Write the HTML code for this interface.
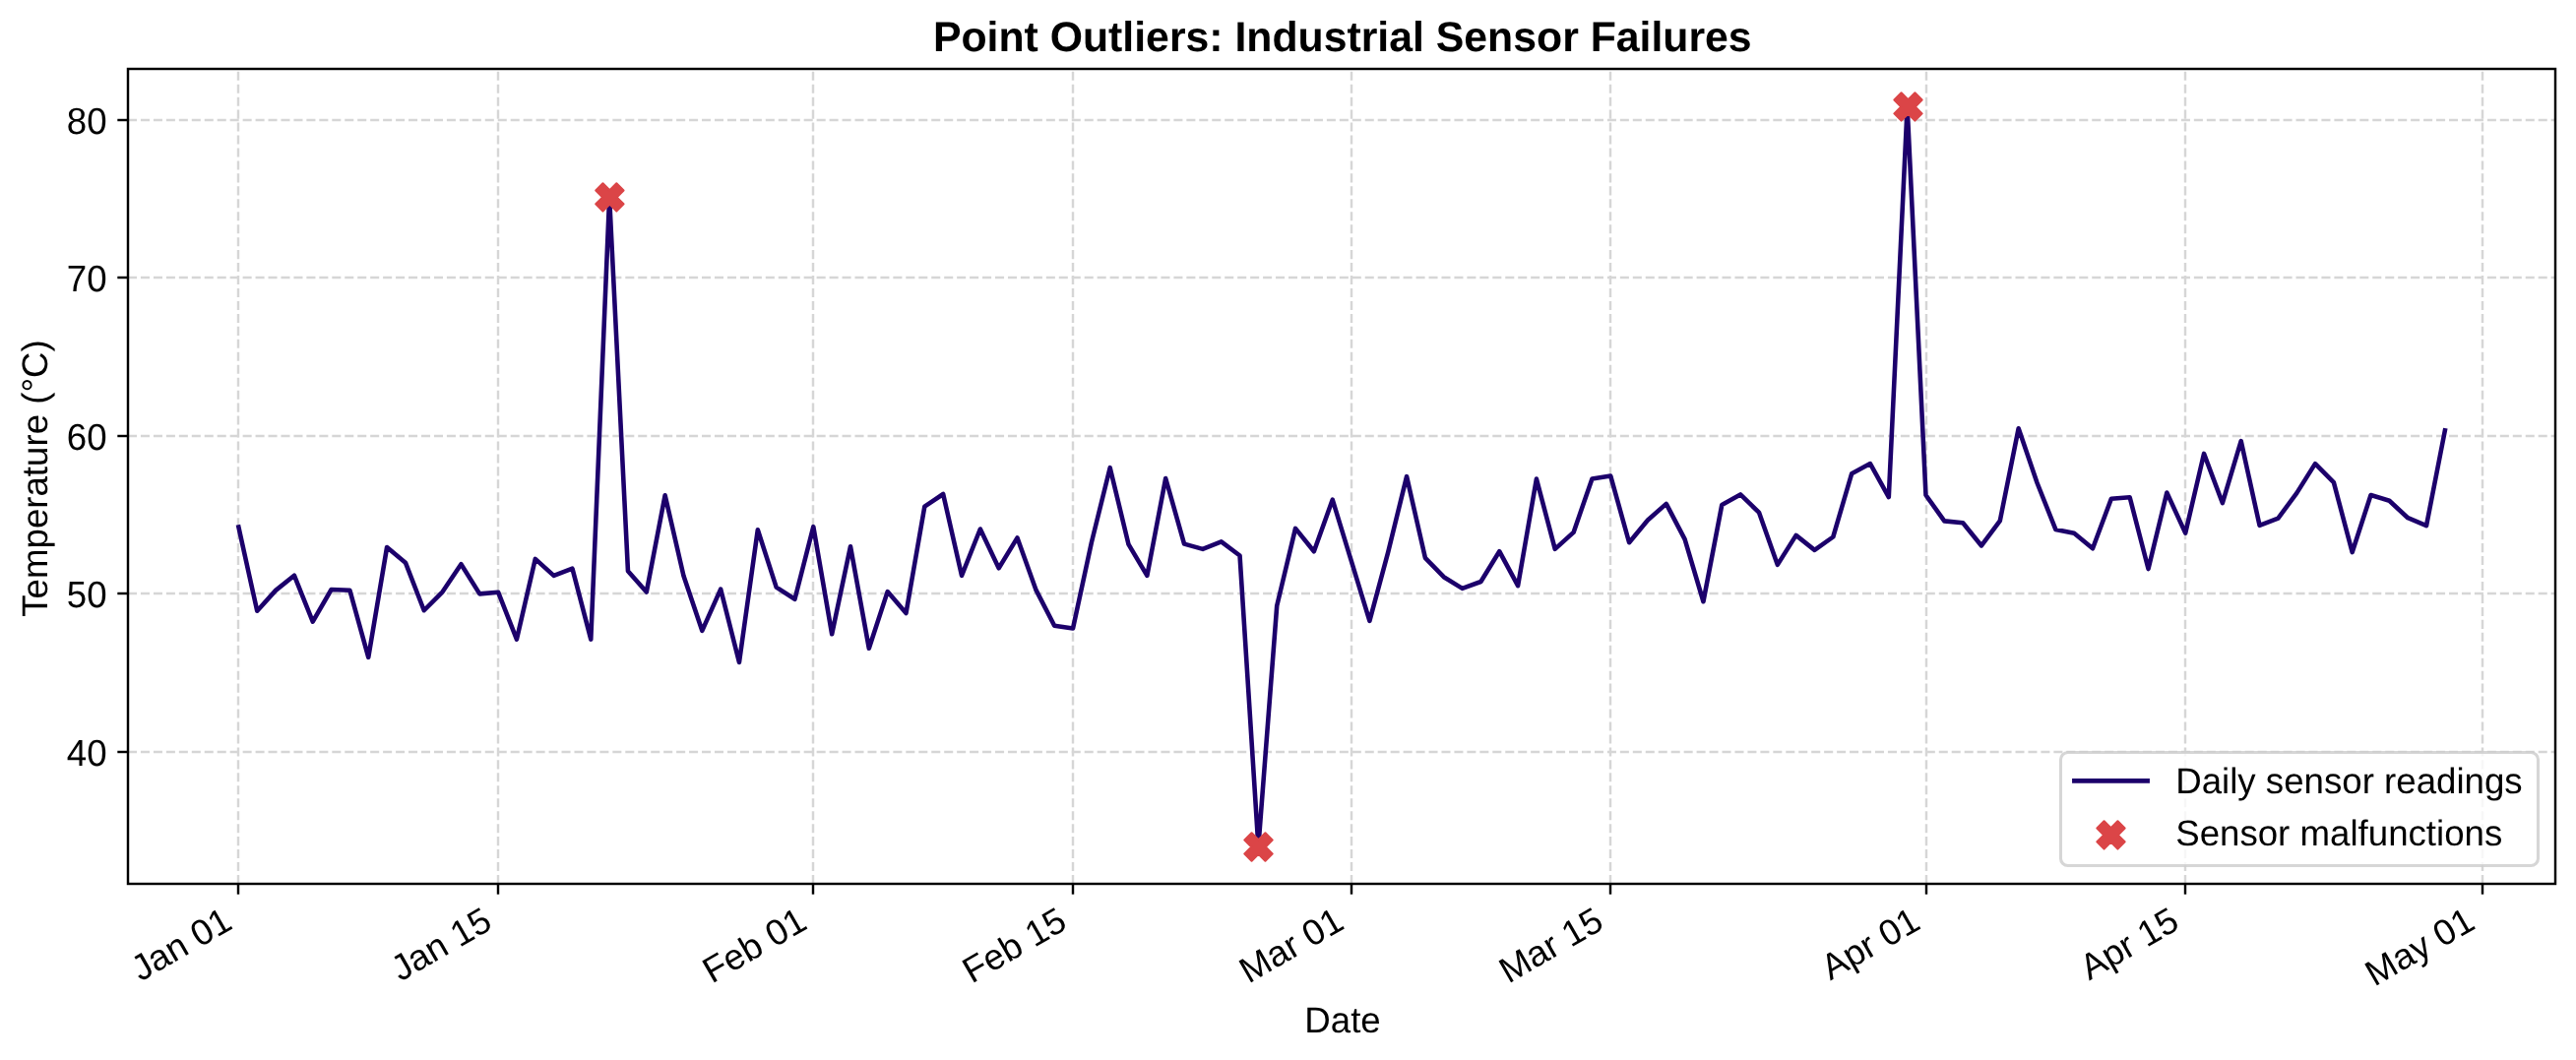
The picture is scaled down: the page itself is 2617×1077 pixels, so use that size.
<!DOCTYPE html><html><head><meta charset="utf-8"><style>html,body{margin:0;padding:0;background:#fff;}svg{display:block;will-change:transform;}text{font-family:"Liberation Sans",sans-serif;text-rendering:geometricPrecision;}</style></head><body>
<svg width="2617" height="1077" viewBox="0 0 2617 1077">
<rect width="2617" height="1077" fill="#fff"/>
<g stroke="#d6d6d6" stroke-width="2.44" stroke-dasharray="9.045 3.911" fill="none"><line x1="242.00" y1="898.00" x2="242.00" y2="70.00"/><line x1="506.00" y1="898.00" x2="506.00" y2="70.00"/><line x1="826.00" y1="898.00" x2="826.00" y2="70.00"/><line x1="1090.00" y1="898.00" x2="1090.00" y2="70.00"/><line x1="1373.00" y1="898.00" x2="1373.00" y2="70.00"/><line x1="1636.00" y1="898.00" x2="1636.00" y2="70.00"/><line x1="1957.00" y1="898.00" x2="1957.00" y2="70.00"/><line x1="2220.00" y1="898.00" x2="2220.00" y2="70.00"/><line x1="2522.00" y1="898.00" x2="2522.00" y2="70.00"/><line x1="130.00" y1="764.00" x2="2596.00" y2="764.00"/><line x1="130.00" y1="603.00" x2="2596.00" y2="603.00"/><line x1="130.00" y1="443.00" x2="2596.00" y2="443.00"/><line x1="130.00" y1="282.00" x2="2596.00" y2="282.00"/><line x1="130.00" y1="122.00" x2="2596.00" y2="122.00"/></g>
<polyline points="242.40,535.50 261.24,620.75 280.07,599.90 298.91,584.70 317.74,631.65 336.58,599.00 355.42,599.80 374.25,667.85 393.09,556.00 411.92,571.70 430.76,620.25 449.60,601.30 468.43,573.20 487.27,603.35 506.10,601.70 524.94,649.55 543.78,567.90 562.61,584.85 581.45,577.70 600.28,649.55 619.12,200.40 637.96,580.20 656.79,601.45 675.63,503.20 694.46,584.90 713.30,640.85 732.14,598.60 750.97,672.95 769.81,538.30 788.64,596.60 807.48,608.75 826.32,535.10 845.15,644.25 863.99,555.20 882.82,658.75 901.66,601.10 920.50,622.95 939.33,514.70 958.17,502.00 977.00,584.85 995.84,537.50 1014.68,577.25 1033.51,546.40 1052.35,599.10 1071.18,635.80 1090.02,638.55 1108.86,551.30 1127.69,475.20 1146.53,553.20 1165.36,584.85 1184.20,486.00 1203.04,552.60 1221.87,557.85 1240.71,550.30 1259.54,564.50 1278.38,860.50 1297.22,615.50 1316.05,536.90 1334.89,560.25 1353.72,507.70 1372.56,569.20 1391.40,630.85 1410.23,560.80 1429.07,484.10 1447.90,566.80 1466.74,586.20 1485.58,597.85 1504.41,591.00 1523.25,560.20 1542.08,595.15 1560.92,486.60 1579.76,557.85 1598.59,540.90 1617.43,486.40 1636.26,483.60 1655.10,551.25 1673.94,528.50 1692.77,511.90 1711.61,547.90 1730.44,611.25 1749.28,513.00 1768.12,502.40 1786.95,520.60 1805.79,573.85 1824.62,543.90 1843.46,558.85 1862.30,545.50 1881.13,481.30 1899.97,471.10 1918.80,505.05 1937.64,108.45 1956.48,503.00 1975.31,529.40 1994.15,531.30 2012.98,554.45 2031.82,529.10 2050.66,435.20 2069.49,490.50 2088.33,537.90 2107.16,541.70 2126.00,557.25 2144.84,506.80 2163.67,505.20 2182.51,578.05 2201.34,500.50 2220.18,541.65 2239.02,460.90 2257.85,511.05 2276.69,448.10 2295.52,533.85 2314.36,526.60 2333.20,501.10 2352.03,471.10 2370.87,490.20 2389.70,561.05 2408.54,503.00 2427.38,508.70 2446.21,526.20 2465.05,534.05 2483.88,437.40" fill="none" stroke="#1c006b" stroke-width="4.58" stroke-linejoin="round" stroke-linecap="square"/>
<polygon points="626.33,186.26 633.54,193.47 626.61,200.40 633.54,207.33 626.33,214.54 619.40,207.61 612.47,214.54 605.26,207.33 612.19,200.40 605.26,193.47 612.47,186.26 619.40,193.19" fill="#db4547" stroke="#db4547" stroke-width="2.10" stroke-linejoin="round"/>
<polygon points="1285.43,846.36 1292.64,853.57 1285.71,860.50 1292.64,867.43 1285.43,874.64 1278.50,867.71 1271.57,874.64 1264.36,867.43 1271.29,860.50 1264.36,853.57 1271.57,846.36 1278.50,853.29" fill="#db4547" stroke="#db4547" stroke-width="2.10" stroke-linejoin="round"/>
<polygon points="1945.43,94.31 1952.64,101.52 1945.71,108.45 1952.64,115.38 1945.43,122.59 1938.50,115.66 1931.57,122.59 1924.36,115.38 1931.29,108.45 1924.36,101.52 1931.57,94.31 1938.50,101.24" fill="#db4547" stroke="#db4547" stroke-width="2.10" stroke-linejoin="round"/>
<rect x="130.00" y="70.00" width="2466.00" height="828.00" fill="none" stroke="#000" stroke-width="2.44" stroke-linejoin="miter"/>
<g stroke="#000" stroke-width="2.44"><line x1="242.00" y1="898.00" x2="242.00" y2="908.69"/><line x1="506.00" y1="898.00" x2="506.00" y2="908.69"/><line x1="826.00" y1="898.00" x2="826.00" y2="908.69"/><line x1="1090.00" y1="898.00" x2="1090.00" y2="908.69"/><line x1="1373.00" y1="898.00" x2="1373.00" y2="908.69"/><line x1="1636.00" y1="898.00" x2="1636.00" y2="908.69"/><line x1="1957.00" y1="898.00" x2="1957.00" y2="908.69"/><line x1="2220.00" y1="898.00" x2="2220.00" y2="908.69"/><line x1="2522.00" y1="898.00" x2="2522.00" y2="908.69"/><line x1="130.00" y1="764.00" x2="119.31" y2="764.00"/><line x1="130.00" y1="603.00" x2="119.31" y2="603.00"/><line x1="130.00" y1="443.00" x2="119.31" y2="443.00"/><line x1="130.00" y1="282.00" x2="119.31" y2="282.00"/><line x1="130.00" y1="122.00" x2="119.31" y2="122.00"/></g>
<text x="0" y="0" font-size="36.67" text-anchor="end" transform="translate(108.6 777.70) scale(1 1.03)">40</text>
<text x="0" y="0" font-size="36.67" text-anchor="end" transform="translate(108.6 616.70) scale(1 1.03)">50</text>
<text x="0" y="0" font-size="36.67" text-anchor="end" transform="translate(108.6 456.70) scale(1 1.03)">60</text>
<text x="0" y="0" font-size="36.67" text-anchor="end" transform="translate(108.6 295.70) scale(1 1.03)">70</text>
<text x="0" y="0" font-size="36.67" text-anchor="end" transform="translate(108.6 135.70) scale(1 1.03)">80</text>
<text x="238.00" y="942.60" font-size="36.67" text-anchor="end" transform="rotate(-30 238.00 942.60)">Jan 01</text>
<text x="502.00" y="942.60" font-size="36.67" text-anchor="end" transform="rotate(-30 502.00 942.60)">Jan 15</text>
<text x="822.00" y="942.60" font-size="36.67" text-anchor="end" transform="rotate(-30 822.00 942.60)">Feb 01</text>
<text x="1086.00" y="942.60" font-size="36.67" text-anchor="end" transform="rotate(-30 1086.00 942.60)">Feb 15</text>
<text x="1367.40" y="942.60" font-size="36.67" text-anchor="end" transform="rotate(-30 1367.40 942.60)">Mar 01</text>
<text x="1631.20" y="942.60" font-size="36.67" text-anchor="end" transform="rotate(-30 1631.20 942.60)">Mar 15</text>
<text x="1953.00" y="942.60" font-size="36.67" text-anchor="end" transform="rotate(-30 1953.00 942.60)">Apr 01</text>
<text x="2216.00" y="942.60" font-size="36.67" text-anchor="end" transform="rotate(-30 2216.00 942.60)">Apr 15</text>
<text x="2516.40" y="942.60" font-size="36.67" text-anchor="end" transform="rotate(-30 2516.40 942.60)">May 01</text>
<text x="1364" y="1048.8" font-size="36.67" text-anchor="middle">Date</text>
<text x="0" y="0" font-size="36.67" text-anchor="middle" transform="translate(47.9 486) rotate(-90)">Temperature (°C)</text>
<text x="1363.8" y="52.3" font-size="42.78" font-weight="bold" text-anchor="middle">Point Outliers: Industrial Sensor Failures</text>
<rect x="2093.50" y="764.50" width="485.00" height="115.00" rx="7.33" ry="7.33" fill="#fff" fill-opacity="0.8" stroke="#cccccc" stroke-opacity="0.8" stroke-width="3.06"/>
<line x1="2107.35" y1="793.4" x2="2181.65" y2="793.4" stroke="#1c006b" stroke-width="4.58" stroke-linecap="square"/>
<polygon points="2151.43,834.26 2158.64,841.47 2151.71,848.40 2158.64,855.33 2151.43,862.54 2144.50,855.61 2137.57,862.54 2130.36,855.33 2137.29,848.40 2130.36,841.47 2137.57,834.26 2144.50,841.19" fill="#db4547" stroke="#db4547" stroke-width="2.10" stroke-linejoin="round"/>
<text x="2210.2" y="806.0" font-size="36.67">Daily sensor readings</text>
<text x="2210.2" y="858.6" font-size="36.67">Sensor malfunctions</text>
</svg></body></html>
